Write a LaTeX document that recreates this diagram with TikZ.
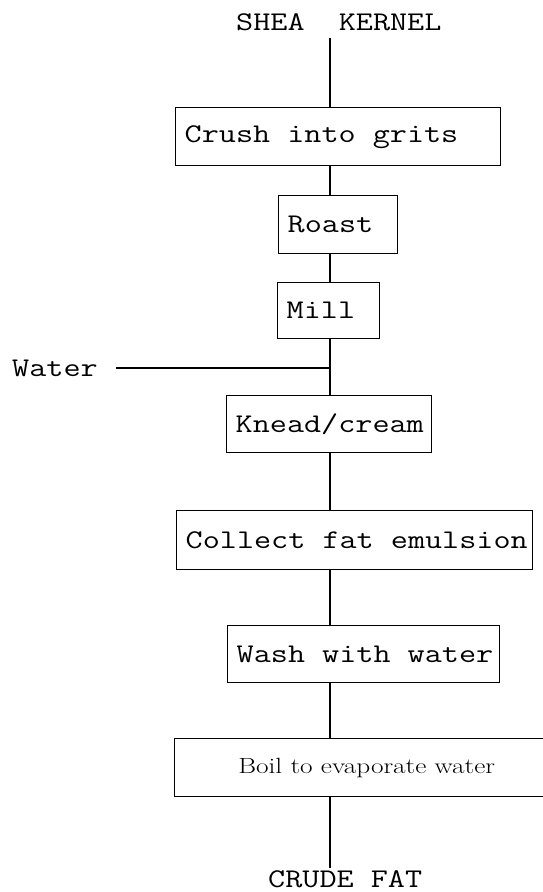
\documentclass[tikz,border=0pt]{standalone}
\usepackage{fontspec}
\usepackage{graphicx}
\newcommand{\mytt}[1]{\scalebox{1.23}[1]{\fontsize{27}{32}\selectfont\ttfamily\addfontfeature{FakeBold=0.8}\spaceskip=0pt\xspaceskip=0pt #1}}
\tikzset{
  flow/.style={line width=1.4pt},
  stepbox/.style={draw, line width=1.4pt, rectangle, inner xsep=9pt, inner ysep=0pt,
    align=left, anchor=north west},
  serifbox/.style={draw, line width=1.4pt, rectangle, inner sep=0pt,
    align=center, anchor=north west},
  lbl/.style={inner sep=0pt, anchor=base west},
}
\begin{document}
\begin{tikzpicture}[x=1pt, y=-1pt]
\fill[white] (0,0) rectangle (542,892);
\useasboundingbox (0,0) rectangle (542,892);

\node[lbl] (shea) at (236,30) {\mytt{SHEA~~KERNEL}};
\node[stepbox, minimum width=325pt, minimum height=58pt, text width=307pt] (crush) at (175,107) {\mytt{Crush into grits}};
\node[stepbox, minimum width=119pt, minimum height=58pt, text width=101pt] (roast) at (278,195) {\mytt{Roast}};
\node[stepbox, minimum width=102pt, minimum height=56pt, text width=84pt] (mill) at (277,282) {\mytt{Mill}};
\node[lbl] (water) at (12,376) {\mytt{Water}};
\node[stepbox, minimum width=205pt, minimum height=57pt, text width=187pt] (knead) at (226,395) {\mytt{Knead/cream}};
\node[stepbox, minimum width=356pt, minimum height=59pt, text width=338pt] (collect) at (176,510) {\mytt{Collect fat emulsion}};
\node[stepbox, minimum width=272pt, minimum height=57pt, text width=254pt] (wash) at (227,625) {\mytt{Wash with water}};
\node[serifbox, minimum width=384pt, minimum height=58pt] (boil) at (174,738)
  {\scalebox{1.24}[1]{\fontsize{22}{26}\selectfont Boil to evaporate water}};
\node[lbl] (crude) at (268,887) {\mytt{CRUDE FAT}};

\coordinate (axis) at (330,0);
\coordinate (top) at (330,38);
\coordinate (bottom) at (330,868);
\coordinate (wstart) at (116,368);

\draw[flow] (top) -- (axis |- crush.north);
\draw[flow] (axis |- crush.south) -- (axis |- roast.north);
\draw[flow] (axis |- roast.south) -- (axis |- mill.north);
\draw[flow] (axis |- mill.south) -- (axis |- knead.north);
\draw[flow] (wstart) -- (axis |- wstart);
\draw[flow] (axis |- knead.south) -- (axis |- collect.north);
\draw[flow] (axis |- collect.south) -- (axis |- wash.north);
\draw[flow] (axis |- wash.south) -- (axis |- boil.north);
\draw[flow] (axis |- boil.south) -- (bottom);
\end{tikzpicture}
\end{document}
